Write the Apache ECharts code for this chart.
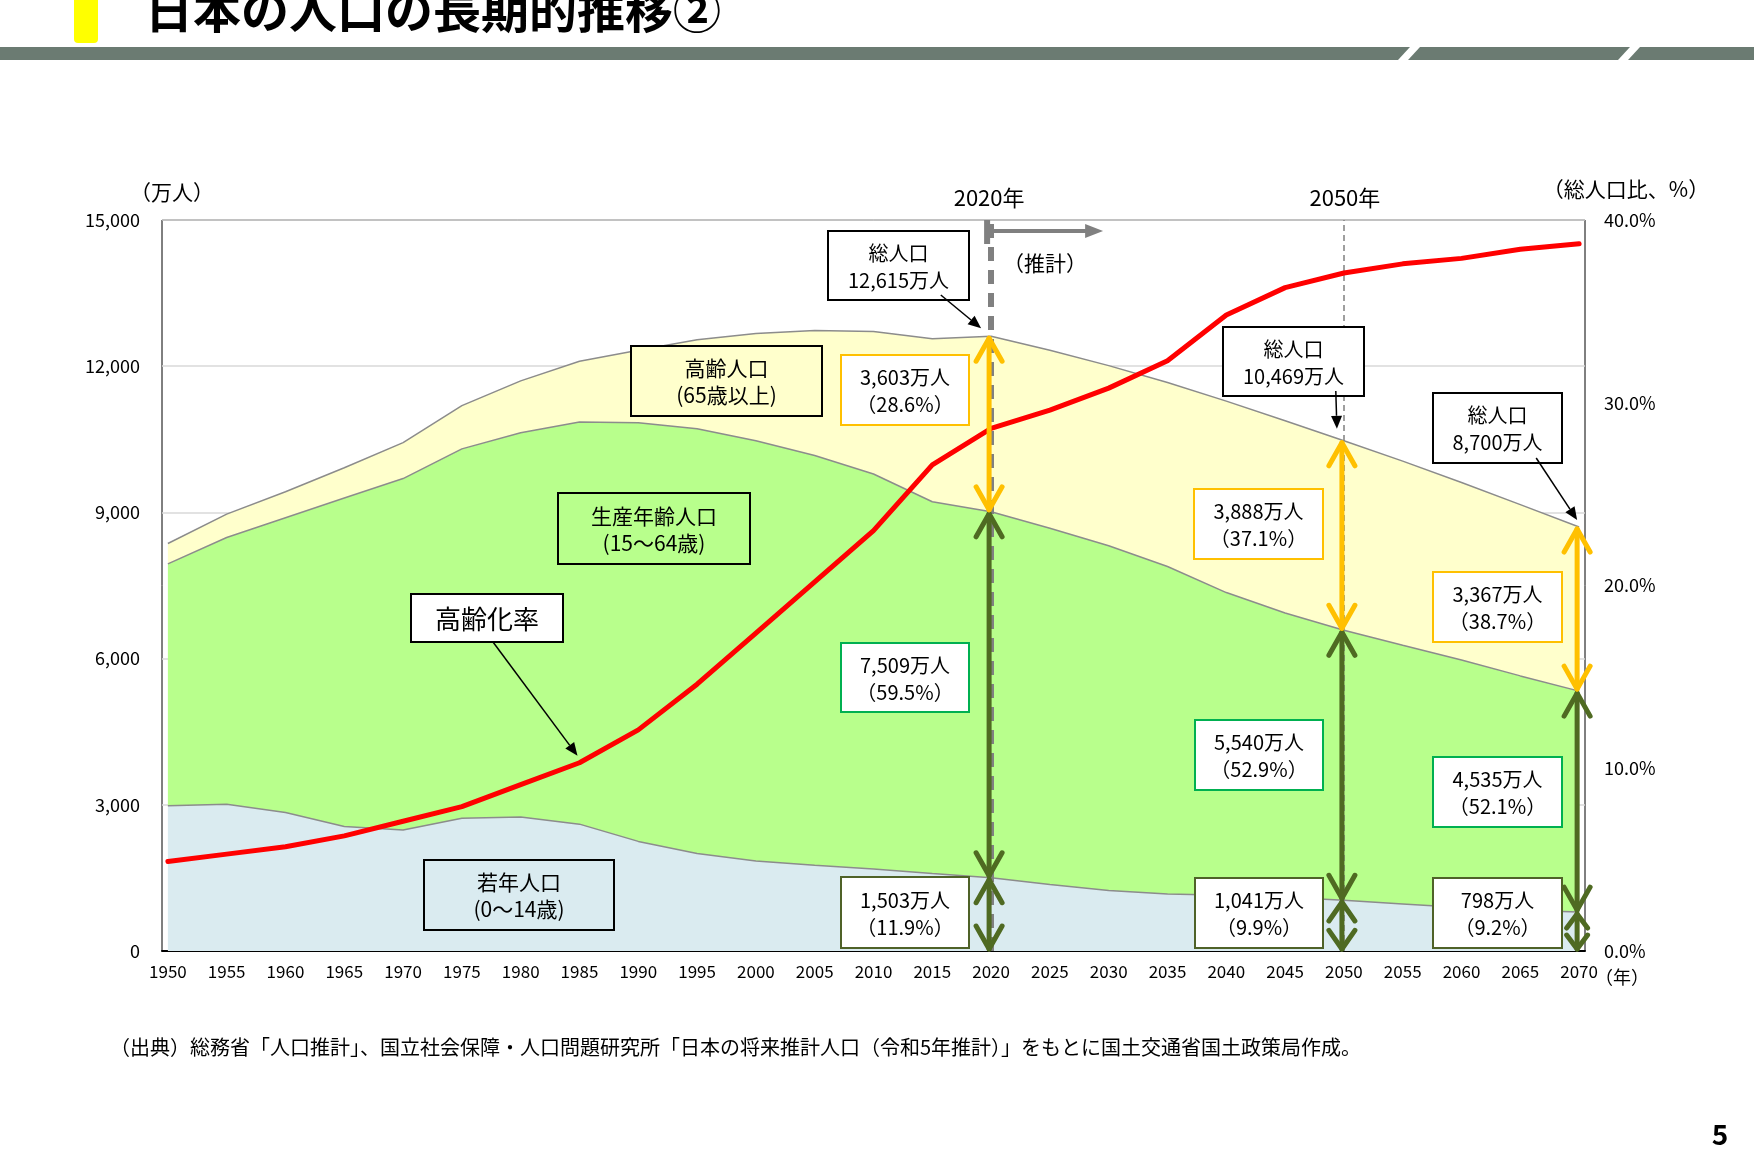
<!DOCTYPE html>
<html>
<head>
<meta charset="utf-8">
<script src="https://cdn.jsdelivr.net/npm/echarts@6/dist/echarts.min.js"></script>
<style>
html,body{margin:0;padding:0;background:#fff;}
#main{width:1754px;height:1164px;}
</style>
</head>
<body>
<div id="main"></div>
<script>
var FONT = '"Noto Sans CJK JP", "Noto Sans", sans-serif';

// 5年ごとの値（万人）
var years = [1950,1955,1960,1965,1970,1975,1980,1985,1990,1995,2000,2005,2010,2015,2020,2025,2030,2035,2040,2045,2050,2055,2060,2065,2070];
var young = [2979,3012,2843,2553,2482,2722,2751,2603,2249,2001,1847,1759,1684,1589,1503,1363,1240,1169,1142,1103,1041,966,893,836,798];
var working = [4966,5473,6047,6744,7212,7581,7883,8251,8590,8717,8622,8409,8103,7629,7509,7310,7076,6722,6213,5832,5540,5307,5078,4809,4535];
var elderly = [416,479,535,618,739,887,1065,1247,1489,1826,2201,2567,2925,3347,3603,3653,3696,3773,3928,3945,3888,3779,3644,3514,3367];
// 高齢化率（%）
var agingRate = [4.9,5.3,5.7,6.3,7.1,7.9,9.1,10.3,12.1,14.6,17.4,20.2,23.0,26.6,28.6,29.6,30.8,32.3,34.8,36.3,37.1,37.6,37.9,38.4,38.7];
// 矢印と数値を示す年
var markYears = [2020, 2050, 2070];

var catYears = [];
for (var yr = 1950; yr <= 2070; yr++) catYears.push(String(yr));

function pairs(arr){
	return years.map(function(y, i){ return [String(y), arr[i]]; });
}

//縦の両矢印（年齢区分ごと）
var arrowData = [];
markYears.forEach(function(y){
	var i = years.indexOf(y);
	var a = young[i], b = young[i] + working[i], c = b + elderly[i];
	arrowData.push([String(y), 0, a, 0]);
	arrowData.push([String(y), a, b, 0]);
	arrowData.push([String(y), b, c, 1]);
});

function renderArrow(params, api){
	var cat = api.value(0);
	var pLow = api.coord([cat, api.value(1)]);
	var pHigh = api.coord([cat, api.value(2)]);
	var color = api.value(3) === 1 ? '#FFC000' : '#4F6A22';
	var x = pLow[0] - 2, yb = pLow[1] - 2, yt = pHigh[1] + 2;
	var len = yb - yt;
	var hl = Math.min(23, len * 0.4), hw = Math.min(13, len * 0.3);
	var st = {stroke: color, lineWidth: 5, fill: 'none', lineJoin: 'round', lineCap: 'round'};
	return {type: 'group', children: [
		{type: 'line', shape: {x1: x, y1: yb, x2: x, y2: yt}, style: st},
		{type: 'polyline', shape: {points: [[x-hw, yt+hl], [x, yt], [x+hw, yt+hl]]}, style: st},
		{type: 'polyline', shape: {points: [[x-hw, yb-hl], [x, yb], [x+hw, yb-hl]]}, style: st}
	]};
}

var chart = echarts.init(document.getElementById('main'));

var option = {
	backgroundColor: '#fff',
	animation: false,
	textStyle: {fontFamily: FONT},
	grid: {left: 162, right: 169, top: 220, bottom: 213, show: true, borderColor: '#000', borderWidth: 1, backgroundColor: 'transparent'},
	xAxis: {
		type: 'category',
		data: catYears,
		boundaryGap: true,
		axisLine: {lineStyle: {color: '#000', width: 2}},
		axisTick: {interval: 4, length: 6, lineStyle: {color: '#000', width: 1.5}},
		axisLabel: {interval: 4, margin: 12, fontSize: 17, color: '#000', fontFamily: FONT}
	},
	yAxis: [{
		type: 'value', min: 0, max: 15000, interval: 3000,
		axisLine: {show: false}, axisTick: {show: false},
		splitLine: {lineStyle: {color: '#D9D9D9', width: 1.5}},
		axisLabel: {margin: 22, fontSize: 18, color: '#000', fontFamily: FONT,
			formatter: function(v){ return v.toLocaleString('en-US'); }}
	}, {
		type: 'value', min: 0, max: 40, interval: 10,
		axisLine: {show: false}, axisTick: {show: false}, splitLine: {show: false},
		axisLabel: {margin: 19, fontSize: 18, color: '#000', fontFamily: FONT,
			formatter: function(v){ return v.toFixed(1) + '%'; }}
	}],
	series: [{
		name: '若年人口', type: 'line', stack: 'pop', data: pairs(young),
		showSymbol: false, symbol: 'none', z: 2,
		lineStyle: {color: '#8C8C8C', width: 1.5},
		areaStyle: {color: '#DAEBF0', opacity: 1}
	}, {
		name: '生産年齢人口', type: 'line', stack: 'pop', data: pairs(working),
		showSymbol: false, symbol: 'none', z: 2,
		lineStyle: {color: '#8C8C8C', width: 1.5},
		areaStyle: {color: '#B8FF8C', opacity: 1}
	}, {
		name: '高齢人口', type: 'line', stack: 'pop', data: pairs(elderly),
		showSymbol: false, symbol: 'none', z: 2,
		lineStyle: {color: '#8C8C8C', width: 1.5},
		areaStyle: {color: '#FFFFCC', opacity: 1},
		markLine: {
			silent: true, z: 3, symbol: ['none', 'none'], label: {show: false},
			data: [
				{xAxis: '2020', lineStyle: {color: '#808080', width: 6, type: [14, 9]}},
				{xAxis: '2050', lineStyle: {color: '#808080', width: 1.5, type: [6, 4]}}
			]
		}
	}, {
		name: '高齢化率', type: 'line', yAxisIndex: 1, data: pairs(agingRate),
		showSymbol: false, symbol: 'none', z: 6,
		lineStyle: {color: '#FF0000', width: 5, cap: 'round', join: 'round'}
	}, {
		name: 'arrows', type: 'custom', data: arrowData, z: 7, clip: false,
		encode: {x: 0, y: [1, 2]},
		renderItem: renderArrow
	}]
};
chart.setOption(option);

/********注記（ボックス・引出線）*********/
function px(year, val, sIdx){
	return chart.convertToPixel({seriesIndex: sIdx || 0}, [catYears.indexOf(String(year)), val]);
}
function txt(text, x, y, size, opt){
	opt = opt || {};
	return {type: 'text', x: x, y: y, z: 100, style: {
		text: text, fill: opt.color || '#000', fontSize: size, fontFamily: FONT,
		fontWeight: opt.weight || 'normal',
		align: opt.align || 'center', textAlign: opt.align || 'center',
		verticalAlign: 'middle', textVerticalAlign: 'middle',
		lineHeight: opt.lineHeight || 27
	}};
}
function box(x, y, w, h, text, stroke, fill, size){
	return [
		{type: 'rect', z: 99, shape: {x: x, y: y, width: w, height: h}, style: {fill: fill, stroke: stroke, lineWidth: 2}},
		txt(text, x + w/2, y + h/2 + 1, size || 20)
	];
}
function leader(x1, y1, x2, y2){
	var ang = Math.atan2(y2 - y1, x2 - x1);
	var L = 13, W = 5.5;
	var bx = x2 - L*Math.cos(ang), by = y2 - L*Math.sin(ang);
	var nx = -Math.sin(ang)*W, ny = Math.cos(ang)*W;
	return [
		{type: 'line', z: 100, shape: {x1: x1, y1: y1, x2: bx, y2: by}, style: {stroke: '#000', lineWidth: 1.5}},
		{type: 'polygon', z: 100, shape: {points: [[x2, y2], [bx+nx, by+ny], [bx-nx, by-ny]]}, style: {fill: '#000'}}
	];
}
function fmt(v){ return v.toLocaleString('en-US') + '万人'; }
function pct(v, t){ return '（' + (v / t * 100).toFixed(1) + '%）'; }

var els = [];
// ヘッダー
els.push({type: 'rect', z: 100, shape: {x: 74, y: -6, width: 24, height: 49, r: 4}, style: {fill: '#FFFF00'}});
els.push(txt('日本の人口の長期的推移②', 145, 10, 48, {align: 'left', weight: 'bold'}));
els.push({type: 'rect', z: 100, shape: {x: 0, y: 47, width: 1754, height: 13}, style: {fill: '#6B7B72'}});
els.push({type: 'polygon', z: 101, shape: {points: [[1398, 60], [1408, 60], [1420, 47], [1410, 47]]}, style: {fill: '#fff'}});
els.push({type: 'polygon', z: 101, shape: {points: [[1618, 60], [1628, 60], [1640, 47], [1630, 47]]}, style: {fill: '#fff'}});

// 軸名
els.push(txt('（万人）', 172, 192, 21));
els.push(txt('（総人口比、%）', 1626, 189, 21));
els.push(txt('（年）', 1622, 977, 18));

var p2020 = px(2020, 0), p2050 = px(2050, 0);
els.push(txt('2020年', p2020[0] - 2, 198, 22));
els.push(txt('2050年', p2050[0] + 1, 198, 22));

// 推計の矢印
var ax = p2020[0] - 4;
els.push({type: 'line', z: 100, shape: {x1: ax, y1: 220, x2: ax, y2: 244}, style: {stroke: '#808080', lineWidth: 6}});
els.push({type: 'line', z: 100, shape: {x1: ax, y1: 231, x2: ax + 100, y2: 231}, style: {stroke: '#808080', lineWidth: 4}});
els.push({type: 'polygon', z: 100, shape: {points: [[ax + 116, 231], [ax + 98, 224], [ax + 98, 238]]}, style: {fill: '#808080'}});
els.push(txt('（推計）', 1045, 263, 21));

// 区分ラベル
els = els.concat(box(631, 346, 191, 70, '高齢人口\n(65歳以上)', '#000', '#FFFFCC', 21));
els = els.concat(box(558, 493, 192, 71, '生産年齢人口\n(15～64歳)', '#000', '#B8FF8C', 21));
els = els.concat(box(424, 860, 190, 70, '若年人口\n(0～14歳)', '#000', '#DAEBF0', 21));
els = els.concat(box(411, 594, 152, 48, '高齢化率', '#000', '#fff', 26));

// 年ごとの数値ボックス
var boxPos = {
	2020: {total: [828, 231, 141, 69], e: [841, 355, 128, 70], w: [841, 643, 128, 69], y: [841, 877, 128, 71]},
	2050: {total: [1223, 327, 141, 69], e: [1194, 489, 129, 70], w: [1195, 720, 128, 70], y: [1195, 878, 128, 70]},
	2070: {total: [1433, 393, 129, 70], e: [1433, 572, 129, 70], w: [1433, 757, 129, 70], y: [1433, 878, 129, 70]}
};
var leaderOff = {2020: [-10, -8], 2050: [-7, -12], 2070: [-2, -7]};
markYears.forEach(function(y){
	var i = years.indexOf(y);
	var tot = young[i] + working[i] + elderly[i];
	var b = boxPos[y];
	els = els.concat(box(b.total[0], b.total[1], b.total[2], b.total[3], '総人口\n' + fmt(tot), '#000', '#fff'));
	els = els.concat(box(b.e[0], b.e[1], b.e[2], b.e[3], fmt(elderly[i]) + '\n' + pct(elderly[i], tot), '#FFC000', '#fff'));
	els = els.concat(box(b.w[0], b.w[1], b.w[2], b.w[3], fmt(working[i]) + '\n' + pct(working[i], tot), '#00B050', '#fff'));
	els = els.concat(box(b.y[0], b.y[1], b.y[2], b.y[3], fmt(young[i]) + '\n' + pct(young[i], tot), '#4F6228', '#fff'));
	var pt = px(y, tot);
	var sx = b.total[0] + b.total[2] * 0.8, sy = b.total[1] + b.total[3] - 5;
	els = els.concat(leader(sx, sy, pt[0] + leaderOff[y][0], pt[1] + leaderOff[y][1]));
});
// 高齢化率の引出線
var pr = px(1985, agingRate[years.indexOf(1985)], 3);
els = els.concat(leader(493, 642, pr[0] - 2, pr[1] - 7));

// 出典・ページ番号
els.push(txt('（出典）総務省「人口推計」、国立社会保障・人口問題研究所「日本の将来推計人口（令和5年推計）」をもとに国土交通省国土政策局作成。', 110, 1047, 20, {align: 'left'}));
els.push(txt('5', 1720, 1134, 28, {weight: 'bold'}));

chart.setOption({graphic: {elements: els}});
</script>
</body>
</html>
